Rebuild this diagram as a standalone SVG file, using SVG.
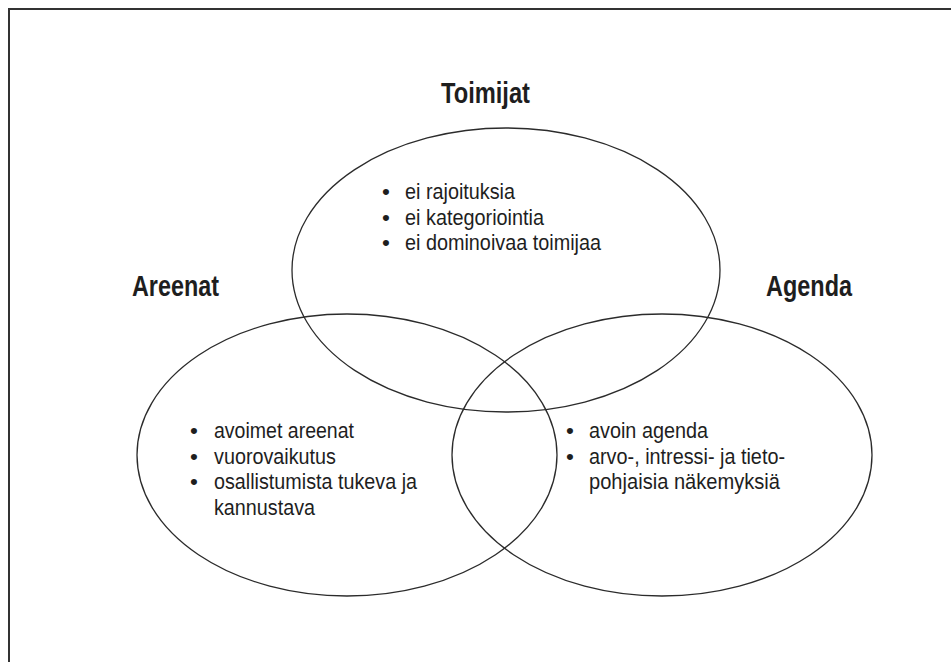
<svg xmlns="http://www.w3.org/2000/svg" width="951" height="662" viewBox="0 0 951 662">
  <style>
    .frame { fill: none; stroke: #333333; stroke-width: 2; }
    .set { fill: none; stroke: #2b2b2b; stroke-width: 1.3; }
    .title { font-family: "Liberation Sans", Arial, sans-serif; font-weight: bold; font-size: 29px; fill: #1e1e1e; }
    .item { font-family: "Liberation Sans", Arial, sans-serif; font-size: 22.5px; fill: #1e1e1e; }
    .dot { font-family: "Liberation Sans", Arial, sans-serif; font-size: 22.5px; fill: #1e1e1e; }
  </style>
  <rect x="0" y="0" width="951" height="662" fill="#ffffff"/>
  <!-- page frame: only top and left edges are visible -->
  <path class="frame" d="M9 662 V9 H951"/>

  <g id="connectors"/>

  <!-- Toimijat -->
  <g id="toimijat">
    <ellipse class="set" cx="506" cy="270" rx="214" ry="142"/>
    <text class="title" x="441" y="103" textLength="89" lengthAdjust="spacingAndGlyphs">Toimijat</text>
    <text class="dot" x="382" y="199">•</text>
    <text class="item" x="405" y="199" textLength="110" lengthAdjust="spacingAndGlyphs">ei rajoituksia</text>
    <text class="dot" x="382" y="224.5">•</text>
    <text class="item" x="405" y="224.5" textLength="139" lengthAdjust="spacingAndGlyphs">ei kategoriointia</text>
    <text class="dot" x="382" y="250">•</text>
    <text class="item" x="405" y="250" textLength="196" lengthAdjust="spacingAndGlyphs">ei dominoivaa toimijaa</text>
  </g>

  <!-- Areenat -->
  <g id="areenat">
    <ellipse class="set" cx="347" cy="455" rx="210" ry="141"/>
    <text class="title" x="132" y="296" textLength="87" lengthAdjust="spacingAndGlyphs">Areenat</text>
    <text class="dot" x="190" y="438">•</text>
    <text class="item" x="214" y="438" textLength="140" lengthAdjust="spacingAndGlyphs">avoimet areenat</text>
    <text class="dot" x="190" y="463.5">•</text>
    <text class="item" x="214" y="463.5" textLength="122" lengthAdjust="spacingAndGlyphs">vuorovaikutus</text>
    <text class="dot" x="190" y="489">•</text>
    <text class="item" x="214" y="489" textLength="203" lengthAdjust="spacingAndGlyphs">osallistumista tukeva ja</text>
    <text class="item" x="214" y="514.5" textLength="101" lengthAdjust="spacingAndGlyphs">kannustava</text>
  </g>

  <!-- Agenda -->
  <g id="agenda">
    <ellipse class="set" cx="662" cy="455" rx="210" ry="141"/>
    <text class="title" x="766" y="296" textLength="86" lengthAdjust="spacingAndGlyphs">Agenda</text>
    <text class="dot" x="566" y="438">•</text>
    <text class="item" x="589" y="438" textLength="119" lengthAdjust="spacingAndGlyphs">avoin agenda</text>
    <text class="dot" x="566" y="463.5">•</text>
    <text class="item" x="589" y="463.5" textLength="196" lengthAdjust="spacingAndGlyphs">arvo-, intressi- ja tieto-</text>
    <text class="item" x="589" y="489" textLength="191" lengthAdjust="spacingAndGlyphs">pohjaisia näkemyksiä</text>
  </g>
</svg>
